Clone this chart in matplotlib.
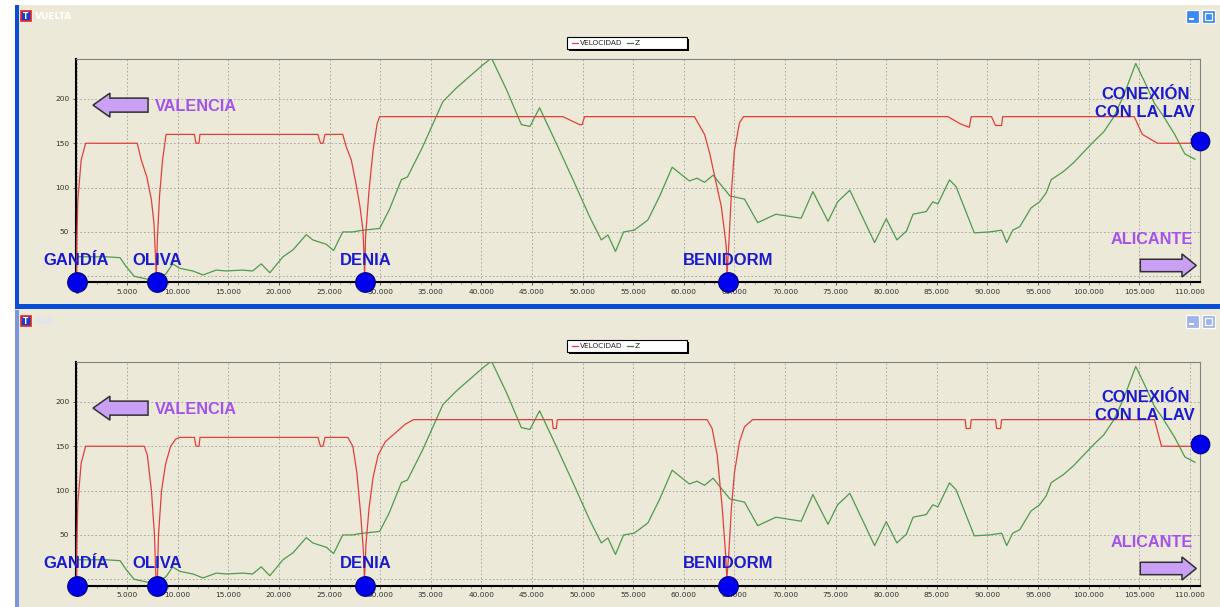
import matplotlib
matplotlib.use("Agg")
import matplotlib.pyplot as plt
import numpy as np
from matplotlib.patches import Rectangle, FancyArrow
from matplotlib.ticker import FuncFormatter, MultipleLocator
from matplotlib.colors import to_rgb

# --- datos ---------------------------------------------------------------
# velocidad VUELTA (km/h) frente a PK (m)
vuelta_pk = [0, 30, 130, 460, 900, 6000, 6400, 6950, 7400, 7650, 7800, 7880,
             8000, 8200, 8500, 8850, 11650, 11800, 12100, 12200, 23850, 24100,
             24350, 24550, 26300, 26650, 27150, 27600, 28000, 28300, 28420,
             28460, 28560, 28900, 29300, 29700, 29950, 48050, 49700, 49950,
             50200, 61050, 62050, 62550, 63200, 63700, 64000, 64200, 64260,
             64450, 64700, 65000, 65500, 65900, 86100, 87300, 88200, 88400,
             90400, 90800, 91400, 91500, 104500, 105300, 106800, 110500]
vuelta_vel = [0, 40, 86, 131, 150, 150, 131, 112, 86, 60, 22, 0,
              45, 90, 131, 160, 160, 150, 150, 160, 160, 150,
              150, 160, 160, 146, 131, 105, 79, 52, 20,
              0, 45, 97, 142, 172, 180, 180, 171, 171,
              180, 180, 160, 139, 105, 79, 52, 33, 0,
              37, 94, 142, 173, 180, 180, 172, 168, 180,
              180, 170, 170, 180, 180, 160, 150, 150]

# velocidad IDA (km/h)
ida_pk = [0, 30, 130, 460, 900, 6700, 7000, 7400, 7700, 7850, 7990, 8100,
          8400, 8800, 9300, 9800, 10200, 11650, 11800, 12100, 12200, 23850,
          24100, 24350, 24550, 26800, 27300, 27700, 28100, 28350, 28450,
          28600, 28900, 29300, 29800, 30500, 31500, 32500, 33300, 47000,
          47100, 47400, 47500, 62300, 62800, 63300, 63800, 64150, 64250,
          64450, 64700, 65000, 65500, 66000, 66800, 87800, 87900, 88300,
          88400, 90800, 90900, 91300, 91400, 106500, 107200, 110500]
ida_vel = [0, 40, 86, 131, 150, 150, 140, 100, 50, 0, 0, 50,
           100, 130, 150, 158, 160, 160, 150, 150, 160, 160,
           150, 150, 160, 160, 150, 120, 70, 30, 0,
           40, 80, 115, 140, 155, 165, 175, 180, 180,
           170, 170, 180, 180, 170, 140, 80, 25, 0,
           30, 80, 120, 155, 172, 180, 180, 170, 170,
           180, 180, 170, 170, 180, 180, 150, 150]

# cota Z (m)
z_pk = [0, 2900, 4300, 4900, 5700, 6900, 7900, 8850, 9500, 10200, 11500,
        12500, 13800, 14800, 16400, 17400, 18250, 19100, 20400, 21400, 22700,
        23350, 24700, 25400, 26300, 27300, 28000, 29950, 30900, 32100, 32700,
        34200, 36200, 37500, 39200, 40150, 41000, 42500, 43950, 44800, 45750,
        47400, 49050, 50700, 51850, 52500, 53250, 54050, 55100, 56450, 57600,
        58850, 60550, 61300, 62050, 62900, 64550, 66000, 67300, 69100, 71600,
        72750, 74250, 75200, 76400, 78850, 80000, 81050, 82000, 82650, 83950,
        84600, 85100, 86250, 86900, 88700, 90200, 91400, 91900, 92500, 93200,
        94300, 95150, 95800, 96300, 97500, 98500, 99500, 100500, 101500,
        102500, 103500, 104650, 105500, 106500, 107300, 108500, 109500, 110500]
z_cota = [22, 22, 21, 11, 0, -3, -4, 3, 14, 9, 6,
          1.5, 7, 6, 7, 6, 14, 4, 22, 30, 47,
          41, 36, 29, 50, 50, 51.5, 54, 75, 109, 112,
          146, 197, 212, 229, 238.5, 246, 210, 171, 169, 190,
          150, 109, 67, 41, 46.6, 28, 50, 52, 63.5, 90,
          123, 107.5, 110.6, 106, 114, 90.6, 87, 60.5, 70, 65.5,
          95.5, 62, 84, 97, 38, 65, 41, 51, 70, 73,
          84, 81.6, 108.7, 101, 49, 50, 52, 38, 52, 56,
          77, 84, 94, 109, 118, 128, 140, 152, 163,
          180, 205, 240, 220, 195, 182, 160, 138, 132]

estaciones = ["GANDÍA", "OLIVA", "DENIA", "BENIDORM"]
estaciones_pk = [0, 7950, 28550, 64400]
conexion_pk, conexion_vel = 110950, 152

W, H = 1220, 607
BEIGE = "#ECE9D8"
AZUL_TXT = "#1A1AD0"
MORADO = "#A452EE"

fig = plt.figure(figsize=(W / 100, H / 100), dpi=100)
fig.patch.set_facecolor("white")

# capa de fondo en pixeles: marcos de ventana
bg = fig.add_axes([0, 0, 1, 1])
bg.axis("off")


def gradiente(stops, n=40):
    pos = [s[0] for s in stops]
    cols = np.array([to_rgb(s[1]) for s in stops])
    t = np.linspace(0, 1, n)
    g = np.stack([np.interp(t, pos, cols[:, k]) for k in range(3)], axis=1)
    return g[:, None, :]


activo = [(0, "#5AA2FA"), (0.15, "#1E70F2"), (0.5, "#0A5AE4"), (0.85, "#0850D8"), (1, "#0A46C6")]
inactivo = [(0, "#A5BBEE"), (0.25, "#8AA4E6"), (0.6, "#7A96DF"), (1, "#93AAE6")]

# ventana VUELTA
bg.add_patch(Rectangle((15, 5), W - 15, 305, fc=BEIGE, ec="none"))
bg.imshow(gradiente(activo), extent=(15, W, 27, 5), aspect="auto")
bg.add_patch(Rectangle((15, 5), 4, 304, fc="#0A4ED8", ec="none"))
bg.add_patch(Rectangle((15, 304), W - 15, 5, fc="#0A4ED8", ec="none"))
# ventana IDA
bg.add_patch(Rectangle((15, 310), W - 15, H - 310, fc=BEIGE, ec="none"))
bg.imshow(gradiente(inactivo), extent=(15, W, 331, 310), aspect="auto")
bg.add_patch(Rectangle((15, 310), 4, H - 310, fc="#7A96DF", ec="none"))

for y0, titulo, col_t, col_b in [(5, "VUELTA", "white", "#3C8AF2"),
                                 (310, "IDA", "#DCE4F8", "#9FB4EC")]:
    bg.add_patch(Rectangle((21, y0 + 6), 10, 10, fc="#1E3CC8", ec="#E02828", lw=1.2))
    bg.text(26, y0 + 11.5, "T", color="white", fontsize=5.5, fontweight="bold",
            ha="center", va="center")
    bg.text(35, y0 + 11.5, titulo, color=col_t, fontsize=6.5, fontweight="bold",
            va="center", family="DejaVu Sans")
    for bx in (1186, 1202):
        bg.add_patch(Rectangle((bx, y0 + 5), 13, 13, fc=col_b, ec="white", lw=0.9))
    bg.add_patch(Rectangle((1189, y0 + 13), 5, 2, fc="white", ec="none"))
    bg.add_patch(Rectangle((1205, y0 + 8), 7, 7, fc="none", ec="white", lw=0.9))

# leyendas (recuadro con sombra)
for ly in (37, 340):
    bg.add_patch(Rectangle((569, ly + 2), 120, 12, fc="black", ec="none"))
    bg.add_patch(Rectangle((567, ly), 120, 12, fc="white", ec="black", lw=0.8))
    bg.plot([572, 578], [ly + 6, ly + 6], color="#E0403C", lw=0.9)
    bg.text(580, ly + 6.3, "VELOCIDAD", fontsize=5.3, va="center", color="#202020")
    bg.plot([627, 633], [ly + 6, ly + 6], color="#3A7A3A", lw=0.9)
    bg.text(635, ly + 6.3, "Z", fontsize=5.3, va="center", color="#202020")

bg.set_xlim(0, W)
bg.set_ylim(H, 0)


def px_axes(x0, y0, x1, y1):
    return fig.add_axes([x0 / W, 1 - y1 / H, (x1 - x0) / W, (y1 - y0) / H])


def panel(ax, pk, vel):
    ax.set_facecolor(BEIGE)
    ax.plot(z_pk, z_cota, color="#4E9A4E", lw=0.9, zorder=3)
    ax.plot(pk, vel, color="#E0403C", lw=0.9, zorder=3)
    ax.set_xlim(-100, 110950)
    ax.set_ylim(-7, 245)
    base = ax.get_ylim()[0]

    ax.xaxis.set_major_locator(MultipleLocator(5000))
    ax.xaxis.set_minor_locator(MultipleLocator(1000))
    ax.xaxis.set_major_formatter(FuncFormatter(lambda v, p: f"{int(v):,}".replace(",", ".")))
    ax.set_yticks([0, 50, 100, 150, 200])
    ax.set_yticklabels(["", "50", "100", "150", "200"])
    ax.tick_params(axis="both", which="major", labelsize=5.3, labelcolor="#303030",
                   length=2.5, width=0.6, color="#404040", pad=2)
    ax.tick_params(axis="x", which="minor", length=1.5, width=0.5, color="#606060")
    ax.grid(True, which="major", ls=(0, (2, 2.5)), color="#A0A0A0", lw=0.6)
    ax.set_axisbelow(True)
    for s in ("left", "bottom"):
        ax.spines[s].set_color("black")
        ax.spines[s].set_linewidth(1.5)
    for s in ("top", "right"):
        ax.spines[s].set_color("#808080")
        ax.spines[s].set_linewidth(0.8)

    # estaciones
    ax.scatter(estaciones_pk, [base] * len(estaciones_pk), s=200, c="#0000EE",
               edgecolors="#000070", linewidths=0.8, zorder=6, clip_on=False)
    for nombre, x in zip(estaciones, estaciones_pk):
        ax.annotate(nombre, (x, base), xytext=(0, 15.8), textcoords="offset points",
                    ha="center", va="center", fontsize=12, fontweight="bold",
                    color=AZUL_TXT, family="Liberation Sans", zorder=7)
    ax.scatter([conexion_pk], [conexion_vel], s=180, c="#0000EE",
               edgecolors="#000070", linewidths=0.8, zorder=6, clip_on=False)
    ax.text(105580, 205, "CONEXIÓN", ha="center", va="center", fontsize=12,
            fontweight="bold", color=AZUL_TXT, family="Liberation Sans", zorder=7)
    ax.text(105580, 184.5, "CON LA LAV", ha="center", va="center", fontsize=12,
            fontweight="bold", color=AZUL_TXT, family="Liberation Sans", zorder=7)

    # destinos
    ax.add_patch(FancyArrow(7065, 193, -5435, 0, width=15.8, head_width=27,
                            head_length=1670, length_includes_head=True,
                            fc="#C9A0F5", ec="#303030", lw=1.1, zorder=6))
    ax.text(7760, 192, "VALENCIA", ha="left", va="center", fontsize=11.7,
            fontweight="bold", color=MORADO, family="Liberation Sans", zorder=7)
    ax.add_patch(FancyArrow(105100, 12.2, 5530, 0, width=14, head_width=26,
                            head_length=1413, length_includes_head=True,
                            fc="#C9A0F5", ec="#303030", lw=1.1, zorder=6,
                            clip_on=False))
    ax.text(110330, 42, "ALICANTE", ha="right", va="center", fontsize=11.7,
            fontweight="bold", color=MORADO, family="Liberation Sans", zorder=7)


ax_vuelta = px_axes(75.5, 59, 1199.5, 282.5)
panel(ax_vuelta, vuelta_pk, vuelta_vel)

ax_ida = px_axes(75.5, 362, 1199.5, 585.5)
panel(ax_ida, ida_pk, ida_vel)

fig.savefig("out.png", dpi=100, facecolor=fig.get_facecolor())
